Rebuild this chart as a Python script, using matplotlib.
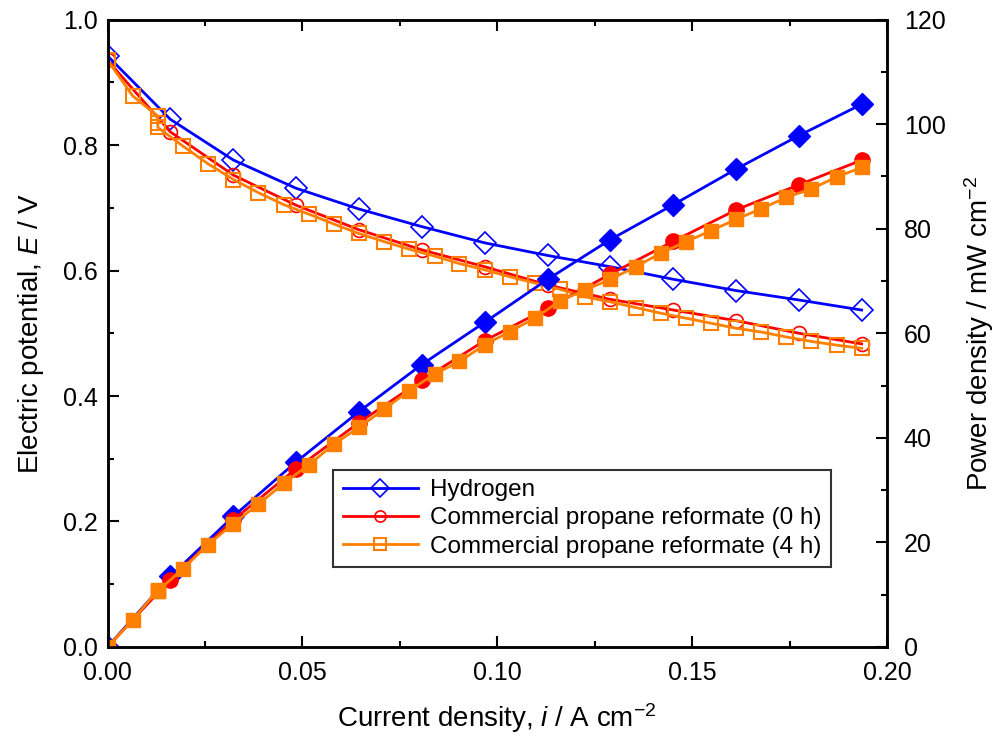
import numpy as np
import matplotlib.pyplot as plt
from matplotlib.ticker import MultipleLocator, FormatStrFormatter

plt.rcParams['font.family'] = ['Liberation Sans', 'DejaVu Sans']
plt.rcParams['mathtext.fontset'] = 'custom'
plt.rcParams['mathtext.rm'] = 'Liberation Sans'
plt.rcParams['mathtext.it'] = 'Liberation Sans:italic'

# Hydrogen
i_h2 = [0.0, 0.0161, 0.0323, 0.0484, 0.0645, 0.0806, 0.0968, 0.1129, 0.1290, 0.1452, 0.1613, 0.1774, 0.1935]
E_h2 = [0.942, 0.841, 0.776, 0.731, 0.698, 0.670, 0.644, 0.624, 0.606, 0.586, 0.568, 0.553, 0.537]
P_h2 = [0.0, 13.5, 25.0, 35.4, 45.0, 54.0, 62.1, 70.3, 77.9, 84.6, 91.4, 97.8, 103.8]

# Commercial propane reformate (0 h)
i_0h = [0.0, 0.0161, 0.0323, 0.0484, 0.0645, 0.0806, 0.0968, 0.1129, 0.1290, 0.1452, 0.1613, 0.1774, 0.1935]
E_0h = [0.935, 0.821, 0.752, 0.704, 0.665, 0.633, 0.606, 0.577, 0.554, 0.537, 0.520, 0.500, 0.483]
P_0h = [0.0, 12.9, 24.3, 34.1, 42.9, 51.0, 58.6, 64.8, 71.3, 77.6, 83.6, 88.4, 93.1]

# Commercial propane reformate (4 h)
i_4h = [0.0, 0.0065, 0.0129, 0.0129, 0.0129, 0.0194, 0.0258, 0.0323, 0.0387, 0.0452,
        0.0516, 0.0581, 0.0645, 0.0710, 0.0774, 0.0839, 0.0903, 0.0968, 0.1032, 0.1097,
        0.1161, 0.1226, 0.1290, 0.1355, 0.1419, 0.1484, 0.1548, 0.1613, 0.1677, 0.1742,
        0.1806, 0.1871, 0.1935]
E_4h = [0.935, 0.878, 0.846, 0.835, 0.828, 0.798, 0.770, 0.745, 0.724, 0.705,
        0.690, 0.674, 0.659, 0.646, 0.634, 0.623, 0.611, 0.601, 0.590, 0.580,
        0.570, 0.558, 0.550, 0.541, 0.532, 0.524, 0.516, 0.508, 0.502, 0.494,
        0.487, 0.481, 0.476]
P_4h = [0.0, 5.2, 10.9, 10.8, 10.7, 15.0, 19.6, 23.6, 27.3, 31.3,
        34.8, 38.8, 42.0, 45.5, 49.0, 52.2, 54.6, 57.8, 60.3, 62.9,
        66.2, 68.3, 70.3, 72.7, 75.3, 77.5, 79.6, 81.8, 83.8, 86.0,
        87.6, 89.9, 91.7]

labels = ['Hydrogen', 'Commercial propane reformate (0 h)', 'Commercial propane reformate (4 h)']
c_h2, c_0h, c_4h = '#0000FF', '#FF0000', '#FF8000'

fig = plt.figure(figsize=(10.06, 7.39), dpi=100)
ax = fig.add_axes([0.1069, 0.1245, 0.7748, 0.8491])
ax2 = ax.twinx()

# polarisation curves (open markers)
l1, = ax.plot(i_h2, E_h2, '-', color=c_h2, lw=2, marker='D', ms=11, mfc='none',
              mec=c_h2, mew=1.2, label=labels[0])
l2, = ax.plot(i_0h, E_0h, '-', color=c_0h, lw=2, marker='o', ms=10, mfc='none',
              mec=c_0h, mew=1.2, label=labels[1])
l3, = ax.plot(i_4h, E_4h, '-', color=c_4h, lw=2, marker='s', ms=10, mfc='none',
              mec=c_4h, mew=1.5, label=labels[2])

# power curves (filled markers)
ax2.plot(i_h2, P_h2, '-', color=c_h2, lw=2, marker='D', ms=11, mfc=c_h2, mec=c_h2)
ax2.plot(i_0h, P_0h, '-', color=c_0h, lw=2, marker='o', ms=11, mfc=c_0h, mec=c_0h)
ax2.plot(i_4h, P_4h, '-', color=c_4h, lw=2, marker='s', ms=10, mfc=c_4h, mec=c_4h)

ax.set_xlim(0, 0.20)
ax.set_ylim(0, 1.0)
ax2.set_ylim(0, 120)

ax.xaxis.set_major_locator(MultipleLocator(0.05))
ax.xaxis.set_minor_locator(MultipleLocator(0.025))
ax.xaxis.set_major_formatter(FormatStrFormatter('%.2f'))
ax.yaxis.set_major_locator(MultipleLocator(0.2))
ax.yaxis.set_minor_locator(MultipleLocator(0.1))
ax.yaxis.set_major_formatter(FormatStrFormatter('%.1f'))
ax2.yaxis.set_major_locator(MultipleLocator(20))
ax2.yaxis.set_minor_locator(MultipleLocator(10))

ax.tick_params(axis='x', which='both', direction='in', top=True, labelsize=18, pad=10)
ax.tick_params(axis='y', which='both', direction='in', right=False, labelsize=18, pad=7)
ax2.tick_params(axis='y', which='both', direction='in', labelsize=18, pad=12)
for a in (ax, ax2):
    a.tick_params(which='major', length=8, width=1.5)
    a.tick_params(which='minor', length=4, width=1.5)
    for s in a.spines.values():
        s.set_linewidth(1.8)

ax.set_xlabel('Current density, $i$ / A cm$^{-2}$', fontsize=20, labelpad=12)
ax.set_ylabel('Electric potential, $E$ / V', fontsize=20, labelpad=12)
ax2.set_ylabel('Power density / mW cm$^{-2}$', fontsize=20, labelpad=12)

leg = ax2.legend(handles=[l1, l2, l3], loc='lower left', bbox_to_anchor=(0.289, 0.127),
                 borderaxespad=0, fontsize=17.5, frameon=True, fancybox=False,
                 edgecolor='black', handlelength=3.1, handletextpad=0.5, borderpad=0.4,
                 labelspacing=0.25, markerscale=0.8)
leg.get_frame().set_linewidth(1.5)

fig.savefig('out.png', dpi=100)
